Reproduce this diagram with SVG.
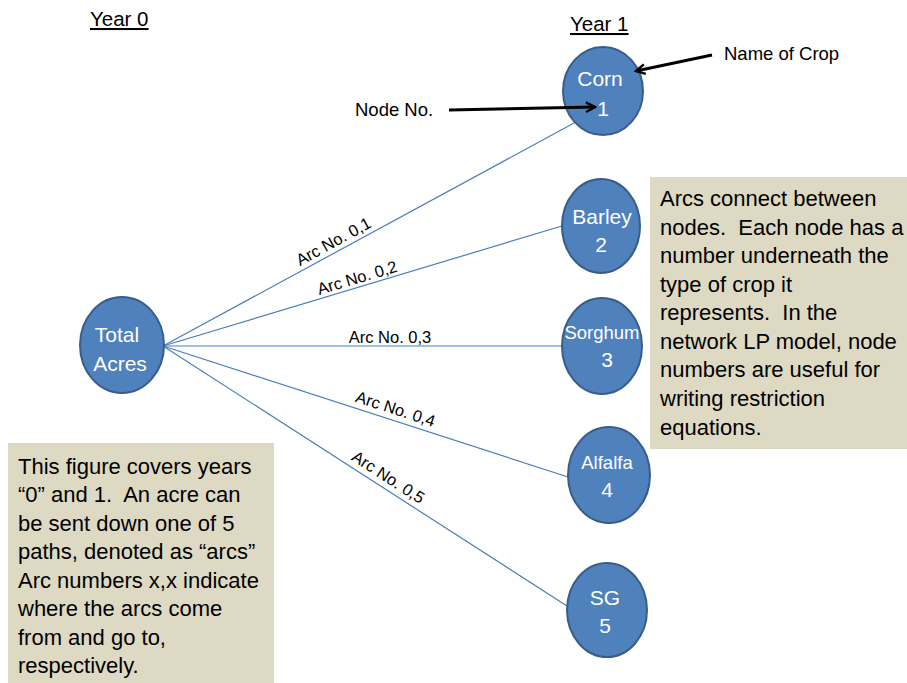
<svg xmlns="http://www.w3.org/2000/svg" width="907" height="683" viewBox="0 0 907 683">
<defs>
<style>
.node{fill:#4F81BD;stroke:#385D8A;stroke-width:2}
.nt{fill:#FFFFFF;font-family:"Liberation Sans",Arial,sans-serif;font-size:21px;text-anchor:middle}
.arc{stroke:#4A7EBB;stroke-width:1.2;fill:none}
.al{fill:#000;font-family:"Liberation Sans",Arial,sans-serif;font-size:16.5px;text-anchor:middle}
.box{fill:#DDD9C3}
.bt{fill:#000;font-family:"Liberation Sans",Arial,sans-serif;font-size:22px;white-space:pre}
.lbl{fill:#000;font-family:"Liberation Sans",Arial,sans-serif;font-size:18.5px}
.yr{fill:#000;font-family:"Liberation Sans",Arial,sans-serif;font-size:20.5px;text-decoration:underline}
.ptr{stroke:#000;stroke-width:3;fill:none}
</style>
<marker id="ah" viewBox="0 0 10 10" refX="8.5" refY="5" markerWidth="4" markerHeight="4" orient="auto" markerUnits="strokeWidth">
<path d="M1,1 L8.5,5 L1,9" fill="none" stroke="#000" stroke-width="2"/>
</marker>
</defs>
<rect width="907" height="683" fill="#FFFFFF"/>

<g id="headers">
<text class="yr" x="90" y="26">Year 0</text>
<text class="yr" x="570" y="31">Year 1</text>
</g>

<g id="connectors">
<line class="arc" x1="163" y1="346" x2="574" y2="123"/>
<line class="arc" x1="163" y1="346" x2="562" y2="226"/>
<line class="arc" x1="163" y1="346" x2="562" y2="346"/>
<line class="arc" x1="163" y1="346" x2="568" y2="477"/>
<line class="arc" x1="163" y1="346" x2="567" y2="606"/>
<text class="al" transform="translate(338,250) rotate(-28.7)" y="-4">Arc No. 0,1</text>
<text class="al" transform="translate(360,287) rotate(-16.7)" y="-4">Arc No. 0,2</text>
<text class="al" transform="translate(390,346)" y="-3">Arc No. 0,3</text>
<text class="al" transform="translate(392,420) rotate(18)" y="-6">Arc No. 0,4</text>
<text class="al" transform="translate(382,487) rotate(32.8)" y="-6">Arc No. 0,5</text>
</g>

<g id="node-total">
<ellipse class="node" cx="122" cy="345" rx="42" ry="48"/>
<text class="nt" x="117" y="342">Total</text>
<text class="nt" x="120" y="371">Acres</text>
</g>
<g id="node-1">
<ellipse class="node" cx="603" cy="91" rx="40" ry="44"/>
<text class="nt" x="600" y="86">Corn</text>
<text class="nt" x="603" y="116">1</text>
</g>
<g id="node-2">
<ellipse class="node" cx="601" cy="226" rx="39" ry="47"/>
<text class="nt" x="602" y="224">Barley</text>
<text class="nt" x="601" y="252">2</text>
</g>
<g id="node-3">
<ellipse class="node" cx="602" cy="346" rx="40" ry="48"/>
<text class="nt" x="602" y="339" style="font-size:18.5px">Sorghum</text>
<text class="nt" x="607" y="367">3</text>
</g>
<g id="node-4">
<ellipse class="node" cx="609" cy="475" rx="41" ry="48"/>
<text class="nt" x="607" y="469" style="font-size:18.5px">Alfalfa</text>
<text class="nt" x="607" y="497">4</text>
</g>
<g id="node-5">
<ellipse class="node" cx="607" cy="610" rx="40" ry="47"/>
<text class="nt" x="605" y="605">SG</text>
<text class="nt" x="605" y="633">5</text>
</g>

<g id="pointer-node">
<text class="lbl" x="355" y="116">Node No.</text>
<line class="ptr" x1="449" y1="110" x2="595" y2="107" marker-end="url(#ah)"/>
</g>
<g id="pointer-crop">
<text class="lbl" x="724" y="60">Name of Crop</text>
<line class="ptr" x1="712" y1="55" x2="636" y2="71" marker-end="url(#ah)"/>
</g>

<g id="note-right">
<rect class="box" x="650" y="177" width="257" height="272"/>
<text class="bt" x="660" y="206">Arcs connect between</text>
<text class="bt" x="660" y="235">nodes.  Each node has a</text>
<text class="bt" x="660" y="263">number underneath the</text>
<text class="bt" x="660" y="292">type of crop it</text>
<text class="bt" x="660" y="320">represents.  In the</text>
<text class="bt" x="660" y="349">network LP model, node</text>
<text class="bt" x="660" y="377">numbers are useful for</text>
<text class="bt" x="660" y="406">writing restriction</text>
<text class="bt" x="660" y="435">equations.</text>
</g>

<g id="note-left">
<rect class="box" x="8" y="443" width="266" height="240"/>
<text class="bt" x="18" y="474">This figure covers years</text>
<text class="bt" x="18" y="502">“0” and 1.  An acre can</text>
<text class="bt" x="18" y="531">be sent down one of 5</text>
<text class="bt" x="18" y="559">paths, denoted as “arcs”</text>
<text class="bt" x="18" y="588">Arc numbers x,x indicate</text>
<text class="bt" x="18" y="616">where the arcs come</text>
<text class="bt" x="18" y="645">from and go to,</text>
<text class="bt" x="18" y="673">respectively.</text>
</g>
</svg>
